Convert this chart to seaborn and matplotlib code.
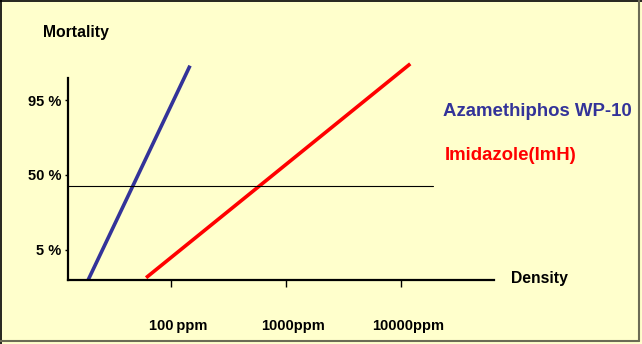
import numpy as np
import pandas as pd
import matplotlib
matplotlib.use("Agg")
import matplotlib.pyplot as plt
from matplotlib.transforms import ScaledTranslation
from matplotlib.lines import Line2D
import seaborn as sns

# Dose-response lines: concentration (ppm) vs mortality in probit units
series_names = ["Azamethiphos WP-10", "Imidazole(ImH)"]
azamethiphos_ppm = [19.0, 146.0]
azamethiphos_probit = [-2.31, 2.40]
imidazole_ppm = [60.6, 11980.0]
imidazole_probit = [-2.26, 2.44]

# Reference level and its extent
ref_probit = -0.24
ref_ppm = [12.7, 18970.0]

# Axis ticks
x_ticks = [100, 1000, 10000]
x_tick_labels = ["100\u2009ppm", "1000ppm", "10000ppm"]
y_ticks = [1.645, 0.0, -1.645]
y_tick_labels = ["95 %", "50 %", "5 %"]

colors = {"Azamethiphos WP-10": "#333399", "Imidazole(ImH)": "#FF0000"}
bg = "#FFFFCC"

sns.set_style("white")
plt.rcParams["font.family"] = ["Liberation Sans", "DejaVu Sans"]
plt.rcParams["font.weight"] = "bold"

W, H, DPI = 642, 344, 100
fig = plt.figure(figsize=(W / DPI, H / DPI), dpi=DPI, facecolor=bg)

# axes box in pixels (from top-left)
left_px, right_px, bottom_px, top_px = 68, 494, 280, 62
ax = fig.add_axes([left_px / W, 1 - bottom_px / H,
                   (right_px - left_px) / W, (bottom_px - top_px) / H])
ax.set_facecolor("none")

df = pd.concat([
    pd.DataFrame({"ppm": azamethiphos_ppm, "probit": azamethiphos_probit,
                  "series": series_names[0]}),
    pd.DataFrame({"ppm": imidazole_ppm, "probit": imidazole_probit,
                  "series": series_names[1]}),
])
for name in series_names:
    sns.lineplot(data=df[df["series"] == name], x="ppm", y="probit", ax=ax,
                 color=colors[name], linewidth=2.6, legend=False,
                 solid_capstyle="butt")

ax.plot(ref_ppm, [ref_probit, ref_probit], color="black", linewidth=0.8)

ax.set_xscale("log")
ax.set_xlim(12.7, 64000)
ax.set_ylim(-2.31, 2.48)

for s in ["top", "right"]:
    ax.spines[s].set_visible(False)
for s in ["left", "bottom"]:
    ax.spines[s].set_color("black")
    ax.spines[s].set_linewidth(1.6)
ax.spines["left"].set_bounds(-2.31, 2.13)

ax.set_xticks(x_ticks)
ax.set_xticklabels(x_tick_labels, fontsize=10.5, fontweight="bold")
ax.xaxis.set_minor_locator(matplotlib.ticker.NullLocator())
ax.tick_params(axis="x", direction="out", length=5, width=1, color="black",
               labelcolor="black", pad=23, bottom=True)
shift = ScaledTranslation(7 / DPI, 0, fig.dpi_scale_trans)
for lab in ax.get_xticklabels():
    lab.set_transform(lab.get_transform() + shift)

ax.set_yticks(y_ticks)
ax.set_yticklabels(y_tick_labels, fontsize=10.5, fontweight="bold")
ax.tick_params(axis="y", direction="out", length=2, width=1, color="black",
               labelcolor="black", pad=3, left=True)
ax.set_xlabel("")
ax.set_ylabel("")

def px_text(x, y, s, **kw):
    fig.text(x / W, 1 - y / H, s, **kw)

px_text(43, 33, "Mortality", fontsize=11.3, fontweight="bold",
        va="center", ha="left", color="black")
px_text(511, 279, "Density", fontsize=11.3, fontweight="bold",
        va="center", ha="left", color="black")
px_text(443, 112, series_names[0], fontsize=13.4, fontweight="bold",
        va="center", ha="left", color=colors[series_names[0]])
px_text(445, 155, series_names[1], fontsize=13.4, fontweight="bold",
        va="center", ha="left", color=colors[series_names[1]])

# frame around the chart area
fig.add_artist(Line2D([0.5 / W, 0.5 / W], [0, 1], color="black", lw=1.2,
                      transform=fig.transFigure))
fig.add_artist(Line2D([0, 1], [1 - 0.5 / H, 1 - 0.5 / H], color="black", lw=1.2,
                      transform=fig.transFigure))
fig.add_artist(Line2D([639 / W, 639 / W], [1 - 341 / H, 1], color="#6b6b55",
                      lw=1.5, transform=fig.transFigure))
fig.add_artist(Line2D([0, 639 / W], [1 - 341 / H, 1 - 341 / H], color="#6b6b55",
                      lw=1.5, transform=fig.transFigure))

fig.savefig("out.png", dpi=DPI, facecolor=bg)
